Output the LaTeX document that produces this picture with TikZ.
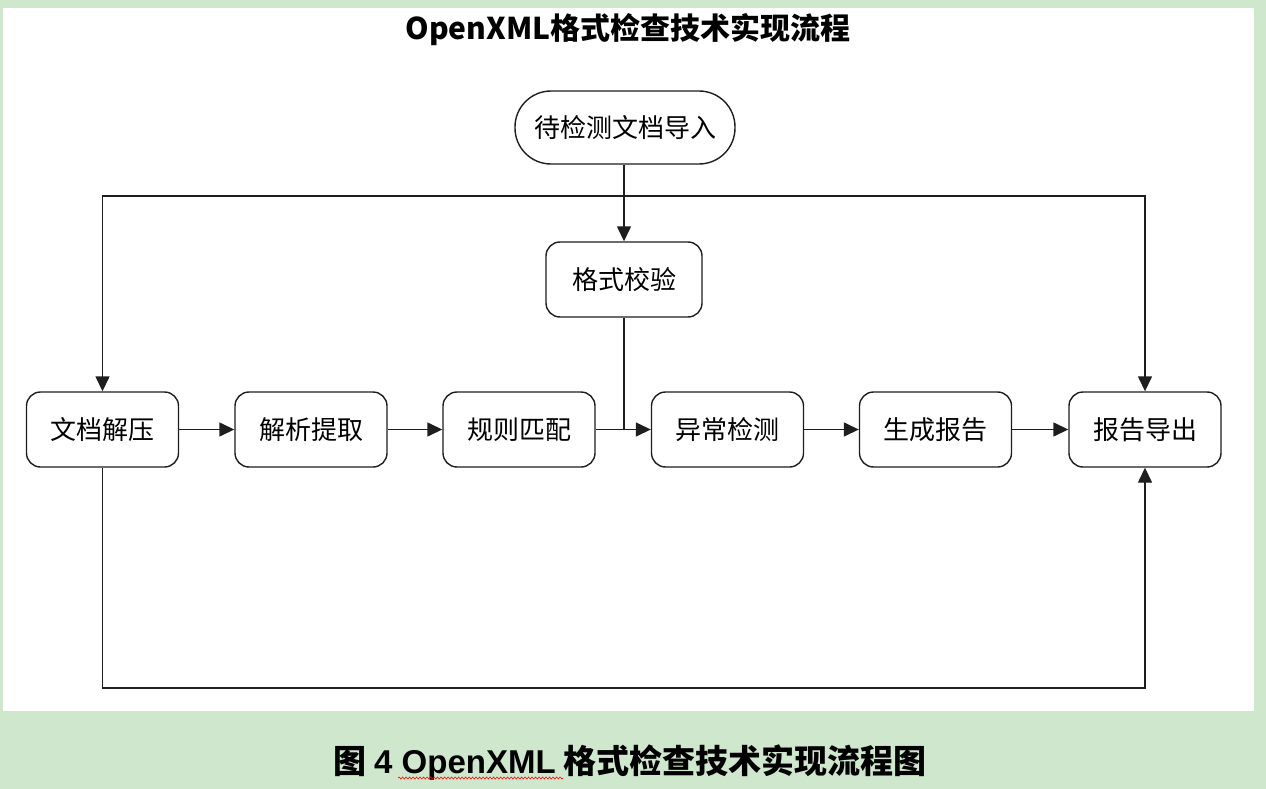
\documentclass[tikz,border=0pt]{standalone}
\usepackage{fontspec}
\setmainfont{Noto Sans CJK SC}
\newfontfamily\arialfont{Liberation Sans}
\usetikzlibrary{arrows.meta,decorations.pathmorphing}
\definecolor{bggreen}{RGB}{207,231,204}
\definecolor{linecol}{RGB}{30,30,30}
\begin{document}
\begin{tikzpicture}[x=1pt,y=-1pt,
  box/.style={draw=linecol, line width=1.4pt, rounded corners=14pt, minimum width=152pt, minimum height=75pt, inner sep=0pt, fill=white, font=\fontsize{26}{30}\selectfont},
  term/.style={draw=linecol, line width=1.4pt, rounded corners=36pt, minimum width=220pt, minimum height=73pt, inner sep=0pt, fill=white, font=\fontsize{26}{30}\selectfont},
  arr/.style={draw=linecol, line width=1.4pt, -{Triangle[length=15pt,width=14pt]}},
  plain/.style={draw=linecol, line width=1.4pt}]
\useasboundingbox (0,0) rectangle (1266,789);
\fill[bggreen] (0,0) rectangle (1266,789);
\fill[white] (3,8) rectangle (1254,711);
% title
\node[font=\bfseries\fontsize{30}{36}\selectfont] (title) at (628,30) {OpenXML格式检查技术实现流程};
% nodes
\node[term] (start) at (625,127.5) {待检测文档导入};
\node[box, minimum width=156pt] (check) at (624,279.5) {格式校验};
\node[box] (unzip) at (102.5,429.5) {文档解压};
\node[box] (parse) at (311,429.5) {解析提取};
\node[box] (match) at (519,429.5) {规则匹配};
\node[box] (detect) at (727.5,429.5) {异常检测};
\node[box] (report) at (935.5,429.5) {生成报告};
\node[box] (export) at (1145,429.5) {报告导出};
% connectors
\coordinate (bus) at (624,196);
\coordinate (low) at (0,688);
\draw[arr] (start.south -| check.north) -- (check.north);
\draw[arr] (bus) -| (unzip.north);
\draw[arr] (bus) -| (export.north);
\draw[arr] (unzip) -- (parse);
\draw[arr] (parse) -- (match);
\draw[arr] (match) -- (detect);
\draw[arr] (detect) -- (report);
\draw[arr] (report) -- (export);
\draw[plain] (check.south) -- (check.south |- detect.west);
\draw[arr] (unzip.south) -- (unzip.south |- low) -| (export.south);
% caption
\node[font=\bfseries\fontsize{33}{38}\selectfont] (cap) at (630,763) {图 {\arialfont 4 OpenXML} 格式检查技术实现流程图};
\draw[red, line width=0.6pt, decorate, decoration={snake, amplitude=1pt, segment length=3.5pt}] (398,778) -- (563,778);
\end{tikzpicture}
\end{document}
